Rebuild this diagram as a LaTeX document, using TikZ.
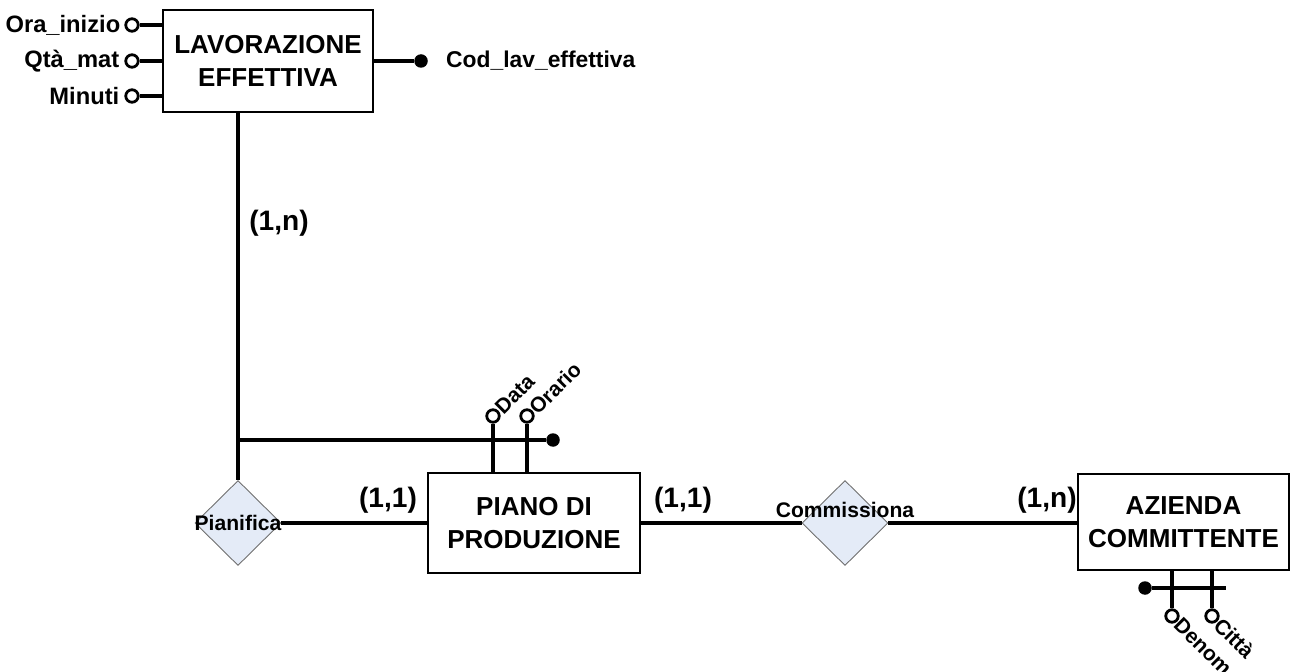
\documentclass[tikz,border=0pt]{standalone}
\usepackage{fontspec}
\setmainfont{Liberation Sans}
\usepackage{tikz}
\usetikzlibrary{shapes.geometric,positioning}
\definecolor{relfill}{RGB}{228,235,247}
\definecolor{reldraw}{RGB}{110,110,110}
\tikzset{
  entity/.style={
    draw,
    fill=white,
    line width=1.2pt,
    align=center,
    inner sep=0pt,
    font=\bfseries\fontsize{14.8}{19}\selectfont
  },
  relship/.style={
    diamond,
    draw=reldraw,
    fill=relfill,
    line width=0.5pt,
    inner sep=0pt,
    minimum width=1.72cm,
    minimum height=1.70cm
  },
  relname/.style={
    inner sep=0pt,
    font=\bfseries\fontsize{12}{14}\selectfont
  },
  attrname/.style={
    inner sep=1pt,
    font=\bfseries\fontsize{13.5}{16}\selectfont
  },
  smallattr/.style={
    inner sep=1pt,
    font=\bfseries\fontsize{12}{14}\selectfont
  },
  card/.style={
    inner sep=0pt,
    font=\bfseries\fontsize{16}{19}\selectfont
  },
  attr/.style={
    circle,
    draw,
    fill=white,
    line width=1.6pt,
    inner sep=0pt,
    minimum size=0.25cm
  },
  keyattr/.style={
    circle,
    fill=black,
    inner sep=0pt,
    minimum size=0.27cm
  },
  link/.style={
    line width=2pt
  }
}
\begin{document}
\begin{tikzpicture}[x=0.02cm,y=-0.02cm]
\useasboundingbox (0,0) rectangle (1291,672);

\node[entity,minimum width=4.20cm,minimum height=2.04cm] (lav) at (268,61) {LAVORAZIONE\\EFFETTIVA};
\node[entity,minimum width=4.24cm,minimum height=2.00cm] (piano) at (534,523) {PIANO DI\\PRODUZIONE};
\node[entity,minimum width=4.22cm,minimum height=1.92cm] (azienda) at (1183.5,522) {AZIENDA\\COMMITTENTE};

\node[relship] (pian) at (238,523) {};
\node[relship] (comm) at (845,523) {};

\node[attr] (ora) at (132,25) {};
\node[attr] (qta) at (132,61) {};
\node[attr] (min) at (132,96) {};
\node[keyattr] (codk) at (421,61) {};
\node[attr] (data) at (493,416) {};
\node[attr] (orario) at (527,416) {};
\node[keyattr] (pk) at (553,440) {};
\node[attr] (denom) at (1172,616) {};
\node[attr] (citta) at (1212,616) {};
\node[keyattr] (azk) at (1145,588) {};
\coordinate (barend) at (1226,588);

\draw[link] (ora) -- (ora -| lav.west);
\draw[link] (qta) -- (qta -| lav.west);
\draw[link] (min) -- (min -| lav.west);
\draw[link] (lav.east) -- (codk);
\draw[link] (lav.south -| pian) -- (pian.north);
\draw[link] (pk -| pian) -- (pk);
\draw[link] (data) -- (data |- piano.north);
\draw[link] (orario) -- (orario |- piano.north);
\draw[link] (pian) -- (piano);
\draw[link] (piano) -- (comm);
\draw[link] (comm) -- (comm -| azienda.west);
\draw[link] (denom) -- (denom |- azienda.south);
\draw[link] (citta) -- (citta |- azienda.south);
\draw[link] (azk) -- (barend);

\node[attrname,left=0.04cm of ora] {Ora\_inizio};
\node[attrname,left=0.06cm of qta] {Qtà\_mat};
\node[attrname,left=0.06cm of min] {Minuti};
\node[attrname,right=0.32cm of codk,font=\bfseries\fontsize{13}{16}\selectfont] {Cod\_lav\_effettiva};
\node[smallattr,rotate=45,anchor=west,inner sep=0pt] at (data.north east) {Data};
\node[smallattr,rotate=45,anchor=west,inner sep=0pt] at (orario.north east) {Orario};
\node[smallattr,rotate=-45,anchor=west,inner sep=0pt] at (denom.south east) {Denom};
\node[smallattr,rotate=-45,anchor=west,inner sep=0pt] at (citta.south east) {Città};

\node[relname] at (pian) {Pianifica};
\node[relname,yshift=0.26cm] at (comm) {Commissiona};

\node[card] at (279,223) {(1,n)};
\node[card] at (388,500) {(1,1)};
\node[card] at (683,500) {(1,1)};
\node[card] at (1047,500) {(1,n)};
\end{tikzpicture}
\end{document}
